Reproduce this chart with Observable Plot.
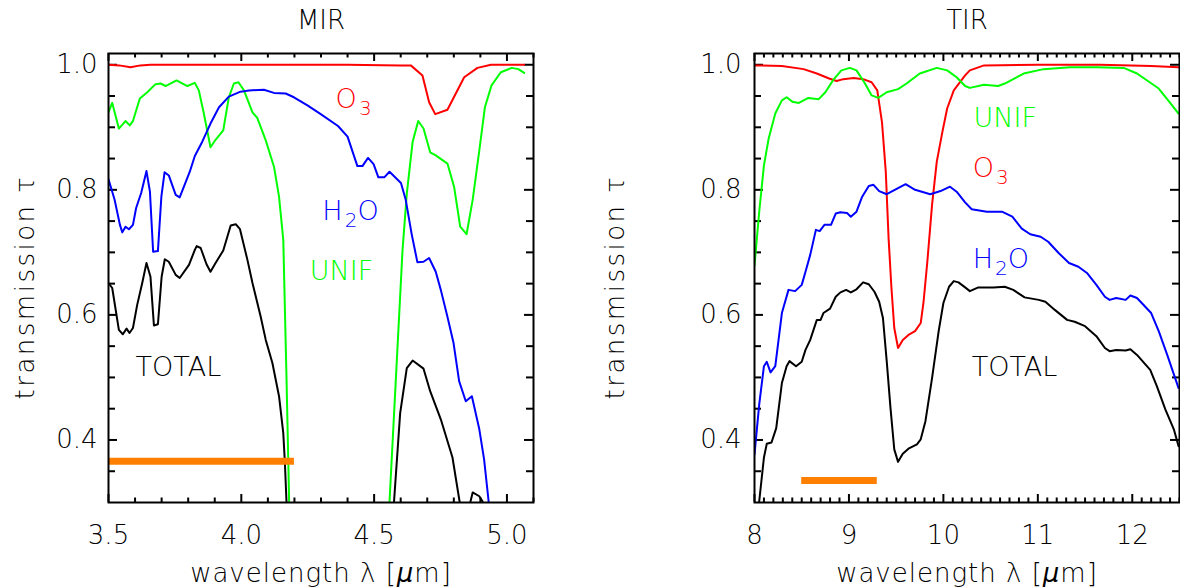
<!DOCTYPE html>
<html>
<head>
<meta charset="utf-8">
<script src="https://cdn.jsdelivr.net/npm/d3@7"></script>
<script src="https://cdn.jsdelivr.net/npm/@observablehq/plot@0.6"></script>
<style>
  html, body { margin: 0; padding: 0; background: #fff; overflow: hidden; }
  #row { display: flex; width: 1180px; height: 587px; }
  #row svg { display: block; }
</style>
</head>
<body>
<div id="row"></div>
<script>
// Atmospheric transmission, [wavelength in µm, transmission τ]

// ---- MIR window (3.5 – 5.1 µm) ----
const mirO3 = [
  [3.500, 1.000], [3.540, 0.999], [3.583, 0.996], [3.620, 0.999], [3.658, 1.000],
  [4.000, 1.000], [4.400, 1.000], [4.600, 0.999], [4.638, 0.999], [4.682, 0.983],
  [4.707, 0.940], [4.730, 0.921], [4.776, 0.928], [4.839, 0.980], [4.889, 0.995],
  [4.940, 1.000], [5.065, 1.000]
];
const mirUnif = [
  [3.500, 0.924], [3.514, 0.939], [3.539, 0.898], [3.564, 0.910], [3.580, 0.903],
  [3.592, 0.910], [3.618, 0.946], [3.646, 0.956], [3.677, 0.969], [3.696, 0.970],
  [3.715, 0.966], [3.756, 0.975], [3.797, 0.966], [3.825, 0.971], [3.840, 0.959],
  [3.859, 0.922], [3.884, 0.868], [3.903, 0.880], [3.932, 0.895], [3.953, 0.948],
  [3.972, 0.970], [3.989, 0.972], [4.010, 0.959], [4.042, 0.924], [4.060, 0.915],
  [4.092, 0.879], [4.123, 0.837], [4.142, 0.789], [4.158, 0.720], [4.170, 0.502],
  [4.180, 0.302], [4.190, 0.100], [4.545, 0.100], [4.558, 0.302], [4.607, 0.704],
  [4.623, 0.794], [4.645, 0.877], [4.666, 0.910], [4.686, 0.898], [4.711, 0.860],
  [4.732, 0.855], [4.776, 0.842], [4.801, 0.805], [4.824, 0.741], [4.848, 0.729],
  [4.871, 0.784], [4.896, 0.863], [4.917, 0.932], [4.942, 0.967], [4.977, 0.988],
  [5.018, 0.995], [5.043, 0.993], [5.065, 0.987]
];
const mirH2O = [
  [3.500, 0.817], [3.523, 0.784], [3.543, 0.744], [3.552, 0.732], [3.564, 0.741],
  [3.577, 0.737], [3.592, 0.744], [3.604, 0.771], [3.623, 0.795], [3.643, 0.830],
  [3.656, 0.797], [3.668, 0.701], [3.686, 0.702], [3.699, 0.789], [3.711, 0.828],
  [3.727, 0.823], [3.753, 0.792], [3.768, 0.788], [3.806, 0.829], [3.825, 0.854],
  [3.853, 0.877], [3.884, 0.906], [3.916, 0.932], [3.953, 0.949], [3.997, 0.957],
  [4.029, 0.959], [4.085, 0.960], [4.123, 0.955], [4.167, 0.954], [4.198, 0.948],
  [4.249, 0.935], [4.299, 0.921], [4.364, 0.902], [4.400, 0.885], [4.437, 0.838],
  [4.456, 0.838], [4.477, 0.851], [4.498, 0.841], [4.516, 0.820], [4.538, 0.820],
  [4.558, 0.829], [4.601, 0.811], [4.619, 0.784], [4.641, 0.730], [4.663, 0.684],
  [4.686, 0.685], [4.707, 0.691], [4.732, 0.669], [4.751, 0.640], [4.776, 0.597],
  [4.799, 0.555], [4.820, 0.494], [4.845, 0.462], [4.868, 0.470], [4.896, 0.417],
  [4.914, 0.369], [4.931, 0.302], [4.950, 0.150]
];
const mirTotal = [
  [3.500, 0.651], [3.514, 0.643], [3.539, 0.576], [3.554, 0.569], [3.568, 0.578],
  [3.579, 0.571], [3.592, 0.579], [3.608, 0.616], [3.627, 0.651], [3.643, 0.683],
  [3.658, 0.661], [3.671, 0.583], [3.686, 0.585], [3.700, 0.661], [3.712, 0.689],
  [3.727, 0.685], [3.753, 0.664], [3.768, 0.659], [3.803, 0.680], [3.825, 0.704],
  [3.832, 0.710], [3.847, 0.707], [3.869, 0.681], [3.884, 0.669], [3.903, 0.683],
  [3.932, 0.703], [3.960, 0.743], [3.979, 0.745], [3.995, 0.737], [4.023, 0.688],
  [4.042, 0.651], [4.073, 0.597], [4.092, 0.560], [4.117, 0.523], [4.142, 0.470],
  [4.158, 0.411], [4.164, 0.364], [4.170, 0.302], [4.178, 0.150], [4.560, 0.150],
  [4.575, 0.302], [4.598, 0.443], [4.623, 0.515], [4.645, 0.527], [4.686, 0.514],
  [4.711, 0.478], [4.751, 0.433], [4.795, 0.372], [4.820, 0.306], [4.835, 0.270],
  [4.845, 0.270], [4.871, 0.316], [4.896, 0.310], [4.908, 0.302], [4.930, 0.200]
];

// ---- TIR window (8 – 12.5 µm) ----
const tirO3 = [
  [8.00, 0.999], [8.29, 0.998], [8.52, 0.993], [8.66, 0.986], [8.79, 0.978],
  [8.87, 0.974], [8.94, 0.977], [9.05, 0.979], [9.15, 0.977], [9.24, 0.972],
  [9.30, 0.959], [9.35, 0.908], [9.39, 0.829], [9.42, 0.722], [9.45, 0.643],
  [9.48, 0.579], [9.52, 0.547], [9.57, 0.560], [9.63, 0.568], [9.70, 0.574],
  [9.76, 0.587], [9.79, 0.621], [9.83, 0.685], [9.88, 0.776], [9.93, 0.845],
  [9.99, 0.893], [10.04, 0.930], [10.11, 0.959], [10.23, 0.983], [10.28, 0.991],
  [10.43, 0.999], [11.00, 1.000], [11.66, 1.000], [12.20, 0.998], [12.49, 0.996]
];
const tirUnif = [
  [8.00, 0.679], [8.05, 0.765], [8.10, 0.839], [8.15, 0.882], [8.22, 0.922],
  [8.29, 0.943], [8.34, 0.948], [8.40, 0.941], [8.47, 0.939], [8.57, 0.947],
  [8.68, 0.945], [8.75, 0.956], [8.84, 0.977], [8.92, 0.991], [9.01, 0.995],
  [9.08, 0.991], [9.17, 0.970], [9.24, 0.951], [9.31, 0.947], [9.40, 0.956],
  [9.52, 0.961], [9.61, 0.970], [9.75, 0.986], [9.93, 0.995], [10.04, 0.991],
  [10.14, 0.980], [10.23, 0.966], [10.28, 0.963], [10.43, 0.968], [10.58, 0.966],
  [10.65, 0.970], [10.85, 0.986], [11.06, 0.993], [11.34, 0.996], [11.63, 0.996],
  [11.91, 0.995], [12.05, 0.986], [12.28, 0.962], [12.38, 0.943], [12.49, 0.922]
];
const tirH2O = [
  [8.00, 0.377], [8.05, 0.457], [8.10, 0.518], [8.13, 0.525], [8.17, 0.508],
  [8.22, 0.518], [8.29, 0.603], [8.36, 0.640], [8.43, 0.638], [8.50, 0.648],
  [8.54, 0.669], [8.59, 0.696], [8.65, 0.736], [8.69, 0.734], [8.74, 0.744],
  [8.81, 0.744], [8.86, 0.762], [8.91, 0.764], [8.98, 0.763], [9.02, 0.757],
  [9.08, 0.765], [9.14, 0.789], [9.21, 0.806], [9.26, 0.808], [9.32, 0.798],
  [9.40, 0.793], [9.51, 0.802], [9.60, 0.809], [9.70, 0.800], [9.79, 0.796],
  [9.86, 0.793], [9.97, 0.798], [10.07, 0.805], [10.14, 0.797], [10.23, 0.780],
  [10.30, 0.769], [10.46, 0.765], [10.62, 0.765], [10.73, 0.757], [10.83, 0.738],
  [10.92, 0.729], [11.03, 0.725], [11.11, 0.717], [11.22, 0.699], [11.33, 0.683],
  [11.43, 0.677], [11.52, 0.667], [11.62, 0.648], [11.71, 0.629], [11.76, 0.624],
  [11.83, 0.627], [11.93, 0.624], [11.98, 0.631], [12.05, 0.627], [12.20, 0.603],
  [12.28, 0.574], [12.37, 0.536], [12.49, 0.483]
];
const tirTotal = [
  [8.00, 0.220], [8.05, 0.302], [8.10, 0.372], [8.13, 0.394], [8.18, 0.396],
  [8.23, 0.419], [8.29, 0.491], [8.34, 0.518], [8.37, 0.526], [8.44, 0.518],
  [8.50, 0.525], [8.54, 0.544], [8.59, 0.560], [8.66, 0.592], [8.70, 0.592],
  [8.73, 0.603], [8.80, 0.610], [8.86, 0.629], [8.91, 0.636], [8.97, 0.640],
  [9.02, 0.636], [9.08, 0.641], [9.15, 0.652], [9.21, 0.649], [9.27, 0.637],
  [9.32, 0.621], [9.36, 0.595], [9.40, 0.526], [9.44, 0.451], [9.48, 0.385],
  [9.52, 0.365], [9.57, 0.378], [9.63, 0.386], [9.72, 0.393], [9.76, 0.401],
  [9.81, 0.430], [9.88, 0.499], [9.95, 0.574], [10.00, 0.619], [10.06, 0.645],
  [10.11, 0.654], [10.16, 0.652], [10.23, 0.644], [10.28, 0.638], [10.37, 0.644],
  [10.53, 0.644], [10.65, 0.645], [10.74, 0.640], [10.86, 0.628], [11.01, 0.624],
  [11.08, 0.621], [11.18, 0.608], [11.31, 0.592], [11.39, 0.589], [11.50, 0.582],
  [11.62, 0.566], [11.71, 0.547], [11.76, 0.542], [11.83, 0.544], [11.93, 0.543],
  [11.98, 0.545], [12.05, 0.536], [12.19, 0.512], [12.26, 0.486], [12.35, 0.449],
  [12.44, 0.417], [12.49, 0.390]
];

// Spectral band of each instrument channel: [from µm, to µm, τ level]
const mirBand = [3.5, 4.2, 0.366];
const tirBand = [8.5, 9.3, 0.335];

// Curve labels: [text, wavelength, τ, colour]  ("_" marks a subscript)
const mirLabels = [
  ["O_3", 4.355, 0.945, "#ff0000"],
  ["H_2O", 4.305, 0.766, "#0000ff"],
  ["UNIF", 4.258, 0.670, "#00ff00"],
  ["TOTAL", 3.602, 0.516, "#000000"]
];
const tirLabels = [
  ["UNIF", 10.32, 0.915, "#00ff00"],
  ["O_3", 10.31, 0.835, "#ff0000"],
  ["H_2O", 10.31, 0.689, "#0000ff"],
  ["TOTAL", 10.30, 0.516, "#000000"]
];

// Axis ticks
const mirTicks = [3.5, 4.0, 4.5, 5.0];
const tirTicks = [8, 9, 10, 11, 12];
const yTicks = [0.4, 0.6, 0.8, 1.0];
const yMinorTicks = [0.35, 0.45, 0.5, 0.55, 0.65, 0.7, 0.75, 0.85, 0.9, 0.95];

const colors = {O3: "#ff0000", UNIF: "#00ff00", H2O: "#0000ff", TOTAL: "#000000"};
const FONT = "'DejaVu Sans', sans-serif";

function panel({title, xDomain, xTicks, xFormat, series, band, labels, marginLeft, marginRight, yPad}) {
  const W = 590, H = 587, mT = 53, mB = 85;
  const fw = W - marginLeft - marginRight, fh = H - mT - mB;
  const xMinor = d3.range(Math.round(xDomain[0] * 10), Math.round(xDomain[1] * 10) + 1)
    .map(k => k / 10)
    .filter(v => !xTicks.some(t => Math.abs(t - v) < 1e-6));
  const tick = {stroke: "#000", strokeWidth: 2};
  const svg = Plot.plot({
    width: W, height: H,
    marginLeft, marginRight, marginTop: mT, marginBottom: mB,
    style: {fontFamily: FONT, fontWeight: 200, background: "#fff", color: "#000", overflow: "visible"},
    x: {domain: xDomain},
    y: {domain: [0.3, 1.018]},
    marks: [
      // inward ticks on all four sides
      Plot.tickX(xTicks, {x: d => d, insetTop: fh - 8, ...tick}),
      Plot.tickX(xTicks, {x: d => d, insetBottom: fh - 8, ...tick}),
      Plot.tickX(xMinor, {x: d => d, insetTop: fh - 4.5, ...tick}),
      Plot.tickX(xMinor, {x: d => d, insetBottom: fh - 4.5, ...tick}),
      Plot.tickY(yTicks, {y: d => d, insetRight: fw - 9, ...tick}),
      Plot.tickY(yTicks, {y: d => d, insetLeft: fw - 9, ...tick}),
      Plot.tickY(yMinorTicks, {y: d => d, insetRight: fw - 7, ...tick}),
      Plot.tickY(yMinorTicks, {y: d => d, insetLeft: fw - 7, ...tick}),
      // transmission curves
      ...series.map(([data, key]) =>
        Plot.line(data, {x: d => d[0], y: d => d[1], stroke: colors[key], strokeWidth: 2, clip: true})),
      // channel band
      Plot.ruleY([band], {x1: d => d[0], x2: d => d[1], y: d => d[2], stroke: "#ff8000", strokeWidth: 7}),
      Plot.frame({stroke: "#000", strokeWidth: 2}),
      // curve labels
      Plot.text(labels, {x: d => d[1], y: d => d[2], text: d => d[0], fill: d => d[3],
        textAnchor: "start", fontSize: 27}),
      // axes
      Plot.axisX(xTicks, {tickSize: 0, tickPadding: 23, tickFormat: xFormat, fontSize: 26, label: null}),
      Plot.axisY(yTicks, {tickSize: 0, tickPadding: yPad, tickFormat: d3.format(".1f"), fontSize: 26, label: null}),
      Plot.text([title], {frameAnchor: "top", lineAnchor: "middle", dy: -32.5, fontSize: 26}),
      Plot.text(["wavelength λ [μm]"], {frameAnchor: "bottom", lineAnchor: "middle", dy: 71, fontSize: 26}),
      Plot.text(["transmission τ"], {frameAnchor: "left", textAnchor: "middle", lineAnchor: "middle",
        rotate: -90, dx: -marginLeft + 25, dy: 9, fontSize: 26})
    ]
  });
  decorate(svg);
  return svg;
}

// Turn "_x" into a lowered, smaller subscript; italicise μ; widen axis titles.
function decorate(svg) {
  d3.select(svg).selectAll("text").each(function () {
    const s = this.textContent;
    const el = d3.select(this);
    if (s.includes("_")) {
      el.text(null);
      let lowered = false;
      for (const p of s.split(/(_.)/).filter(Boolean)) {
        if (p.startsWith("_")) {
          el.append("tspan").attr("dy", 7).attr("dx", 2).attr("font-size", 20).text(p.slice(1));
          lowered = true;
        } else {
          const t = el.append("tspan").text(p);
          if (lowered) { t.attr("dy", -7); lowered = false; }
        }
      }
    } else if (s.startsWith("wavelength")) {
      el.attr("letter-spacing", 1);
      const [a, b] = s.split("μ");
      el.text(null);
      el.append("tspan").text(a);
      el.append("tspan").attr("font-style", "italic").text("μ");
      el.append("tspan").text(b);
    } else if (s.startsWith("transmission")) {
      el.attr("letter-spacing", 2.5);
    }
  });
}

const row = document.getElementById("row");
row.append(panel({
  title: "MIR", xDomain: [3.5, 5.1], xTicks: mirTicks, xFormat: d3.format(".1f"),
  series: [[mirO3, "O3"], [mirUnif, "UNIF"], [mirH2O, "H2O"], [mirTotal, "TOTAL"]],
  band: mirBand, labels: mirLabels, marginLeft: 108, marginRight: 57, yPad: 11
}));
row.append(panel({
  title: "TIR", xDomain: [8, 12.5], xTicks: tirTicks, xFormat: d3.format("d"),
  series: [[tirO3, "O3"], [tirUnif, "UNIF"], [tirH2O, "H2O"], [tirTotal, "TOTAL"]],
  band: tirBand, labels: tirLabels, marginLeft: 164, marginRight: 1, yPad: 13
}));
</script>
</body>
</html>
